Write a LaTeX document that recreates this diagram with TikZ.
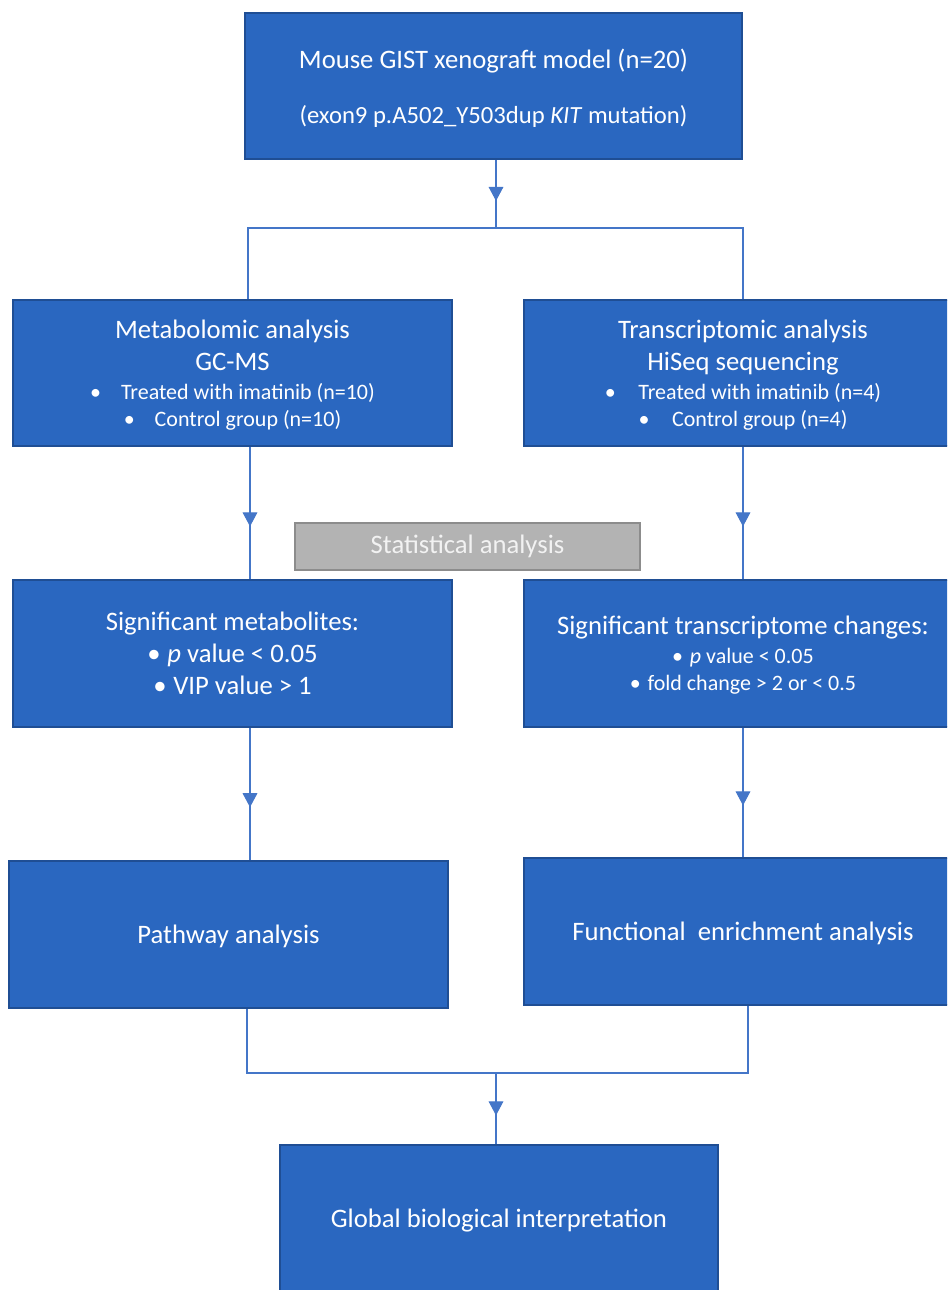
\documentclass[tikz,border=0pt]{standalone}
\usepackage{fontspec}
\setmainfont{Carlito}
\usetikzlibrary{arrows.meta}
\usetikzlibrary{decorations.markings, calc}
\definecolor{boxblue}{RGB}{42,103,192}
\definecolor{boxedge}{RGB}{31,78,148}
\definecolor{linkblue}{RGB}{68,118,200}
\definecolor{statgray}{RGB}{179,179,179}
\definecolor{statedge}{RGB}{140,140,140}
\newcommand{\itemsize}{\fontsize{16.5}{20}\selectfont}

\begin{document}
\begin{tikzpicture}[x=0.75pt, y=-0.75pt,
  box/.style={draw=boxedge, line width=1.5pt, fill=boxblue, text=white, align=center,
    inner sep=0pt, minimum width=329pt, minimum height=110pt, text depth=0pt,
    font=\fontsize{20}{24}\selectfont},
  statbox/.style={draw=statedge, line width=1.5pt, fill=statgray, text=white!95!black,
    minimum width=259pt, minimum height=35pt, inner sep=0pt,
    font=\fontsize{20}{24}\selectfont},
  link/.style={draw=linkblue, line width=0.8pt},
  midarrow/.style={postaction={decorate}, decoration={markings,
    mark=at position 0.6 with {\draw[linkblue, line width=2pt] (-17pt,0) -- (-9pt,0);
      \arrow[linkblue]{Triangle[length=10.5pt, width=11pt]}}}}
]
\useasboundingbox (0,0) rectangle (947,1290);
\clip (0,0) rectangle (947,1290);

% boxes
\node[box, minimum width=373pt] (mouse) at (493.5,86) {Mouse GIST xenograft model (n=20)\\[17pt]
  \fontsize{18.5}{22}\selectfont (exon9 p.A502\_Y503dup \textit{KIT} mutation)};

\node[box] (metab) at (232.5,373) {Metabolomic analysis\\GC-MS\\[-2.25pt]
  \itemsize\textbullet\hspace{15pt}Treated with imatinib (n=10)\\[-3.75pt]
  \itemsize\textbullet\hspace{15pt}Control group (n=10)};
\node[box] (transc) at (743,373) {Transcriptomic analysis\\HiSeq sequencing\\[-2.25pt]
  \itemsize\textbullet\hspace{17pt}Treated with imatinib (n=4)\\[-3.75pt]
  \itemsize\textbullet\hspace{17pt}Control group (n=4)};

\node[statbox] (stat) at (467.5,546.5) {Statistical analysis};

\node[box] (sigmet) at (232.5,653.5) {Significant metabolites:\\
  \textbullet\hspace{5pt}\textit{p} value < 0.05\\
  \textbullet\hspace{5pt}VIP value > 1};
\node[box] (sigtr) at (743,653.5) {Significant transcriptome changes:\\[-2.25pt]
  \itemsize\textbullet\hspace{5pt}\textit{p} value < 0.05\\[-3.75pt]
  \itemsize\textbullet\hspace{5pt}fold change > 2 or < 0.5};

\node[box] (pathway) at (228.5,934.5) {Pathway analysis};
\node[box] (funct) at (743,931.5) {Functional\ \ enrichment analysis};

\node[box] (global) at (499,1218) {Global biological interpretation};

% connectors
\coordinate (split) at (496,228);
\coordinate (merge) at (496,1073);

\draw[link, midarrow] (mouse.south -| split) -- (split);
\draw[link] ($(metab.north)+(15.5,0)$) |- (split) -| (transc.north);

\draw[link, midarrow] ($(metab.south)+(17.5,0)$) -- ($(sigmet.north)+(17.5,0)$);
\draw[link, midarrow] (transc.south) -- (sigtr.north);

\draw[link, midarrow] ($(sigmet.south)+(17.5,0)$) -- ($(pathway.north)+(21.5,0)$);
\draw[link, midarrow] (sigtr.south) -- (funct.north);

\draw[link] ($(pathway.south)+(18.5,0)$) |- (merge) -| ($(funct.south)+(5,0)$);
\draw[link, midarrow] (merge) -- (merge |- global.north);

\end{tikzpicture}
\end{document}
